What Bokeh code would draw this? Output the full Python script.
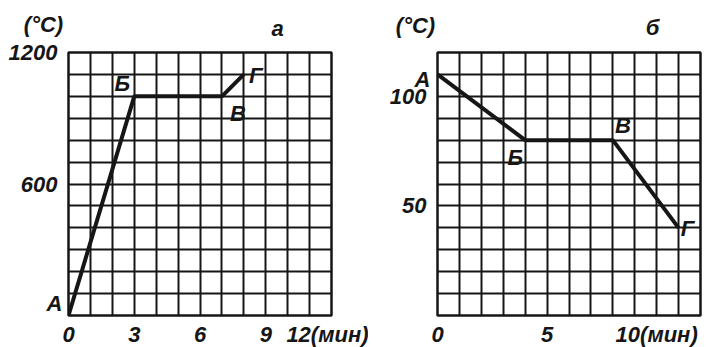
from bokeh.plotting import figure
from bokeh.layouts import row
from bokeh.models import FixedTicker, SingleIntervalTicker, Label, Range1d
from bokeh.embed import file_html
from bokeh.resources import INLINE

# ---- data (panel а: heating) ----
a_time = [0, 3, 7, 8]
a_temp = [0, 1000, 1000, 1100]
a_points = ["А", "Б", "В", "Г"]
a_xticks = [0, 3, 6, 9, 12]
a_xlabels = ["0", "3", "6", "9", "12(мин)"]
a_yticks = [600, 1200]
a_ylabels = ["600", "1200"]

# ---- data (panel б: cooling) ----
b_time = [0, 4, 8, 11]
b_temp = [110, 80, 80, 40]
b_points = ["А", "Б", "В", "Г"]
b_xticks = [0, 5, 10]
b_xlabels = ["0", "5", "10(мин)"]
b_yticks = [50, 100]
b_ylabels = ["50", "100"]

unit_label = "(°C)"
panel_titles = ["а", "б"]

# ---- styles ----
FONT = "Liberation Sans"
FSIZE = "22px"
FSTYLE = "bold italic"
INK = "#161616"
FRAME = 263

a_offsets = [(-14, 12), (-12, 13), (16, -17), (12, -1)]
b_offsets = [(-15, -5), (-10, -17), (10, 15), (9, -1)]
a_outside = "right"   # side panel holding the outside-frame point label
b_outside = "left"


def txt(**kw):
    return Label(text_align="center", text_baseline="middle", text_font=FONT,
                 text_font_style=FSTYLE, text_font_size=FSIZE, text_color=INK, **kw)


def panel(xs, ys, names, offsets, xmax, ymax, ystep, xticks, xlabels, yticks, ylabels,
          bl, br, unit_off, title, title_off, title_side, out_side):
    p = figure(frame_width=FRAME, frame_height=FRAME,
               x_range=Range1d(0, xmax), y_range=Range1d(0, ymax),
               output_backend="svg", toolbar_location=None,
               min_border_left=bl, min_border_right=br,
               min_border_top=52, min_border_bottom=32)
    p.background_fill_color = "white"
    p.border_fill_color = "white"
    p.outline_line_color = INK
    p.outline_line_width = 2.5
    for ax in list(p.xaxis) + list(p.yaxis):
        ax.axis_line_color = None
        ax.major_tick_line_color = None
        ax.minor_tick_line_color = None
        ax.major_label_text_font = FONT
        ax.major_label_text_font_style = FSTYLE
        ax.major_label_text_font_size = FSIZE
        ax.major_label_text_color = INK
    p.xaxis.ticker = FixedTicker(ticks=xticks)
    p.xaxis.major_label_overrides = dict(zip(xticks, xlabels))
    p.xaxis.major_label_standoff = 0
    p.yaxis.ticker = FixedTicker(ticks=yticks)
    p.yaxis.major_label_overrides = dict(zip(yticks, ylabels))
    p.yaxis.major_label_standoff = 5
    p.xgrid.ticker = SingleIntervalTicker(interval=1)
    p.ygrid.ticker = SingleIntervalTicker(interval=ystep)
    for g in (p.xgrid, p.ygrid):
        g.grid_line_color = INK
        g.grid_line_width = 2
        g.grid_line_alpha = 1
    p.line(xs, ys, line_width=4, color=INK)
    for i, (x, y, n, (dx, dy)) in enumerate(zip(xs, ys, names, offsets)):
        lab = txt(x=x, y=y, text=n, x_offset=dx, y_offset=dy)
        if i == 0:
            p.add_layout(lab, out_side)
        else:
            p.add_layout(lab)
    # axis unit label at the top-left corner of the frame
    p.add_layout(txt(x=0, y=ymax, x_offset=unit_off[0], y_offset=unit_off[1],
                     text=unit_label), "above")
    # panel letter at the top-right corner of the frame
    p.add_layout(txt(x=xmax, y=ymax, x_offset=title_off[0], y_offset=title_off[1],
                     text=title), title_side)
    return p


pa = panel(a_time, a_temp, a_points, a_offsets, 12, 1200, 100, a_xticks, a_xlabels,
           a_yticks, a_ylabels, 68, 37, (-25, 28), panel_titles[0], (-54, 24),
           "right", a_outside)
pb = panel(b_time, b_temp, b_points, b_offsets, 12, 120, 10, b_xticks, b_xlabels,
           b_yticks, b_ylabels, 69, 20, (-22, 27), panel_titles[1], (-48, 25),
           "right", b_outside)

layout = row(pa, pb)
open("out.html", "w").write(file_html(layout, INLINE))
